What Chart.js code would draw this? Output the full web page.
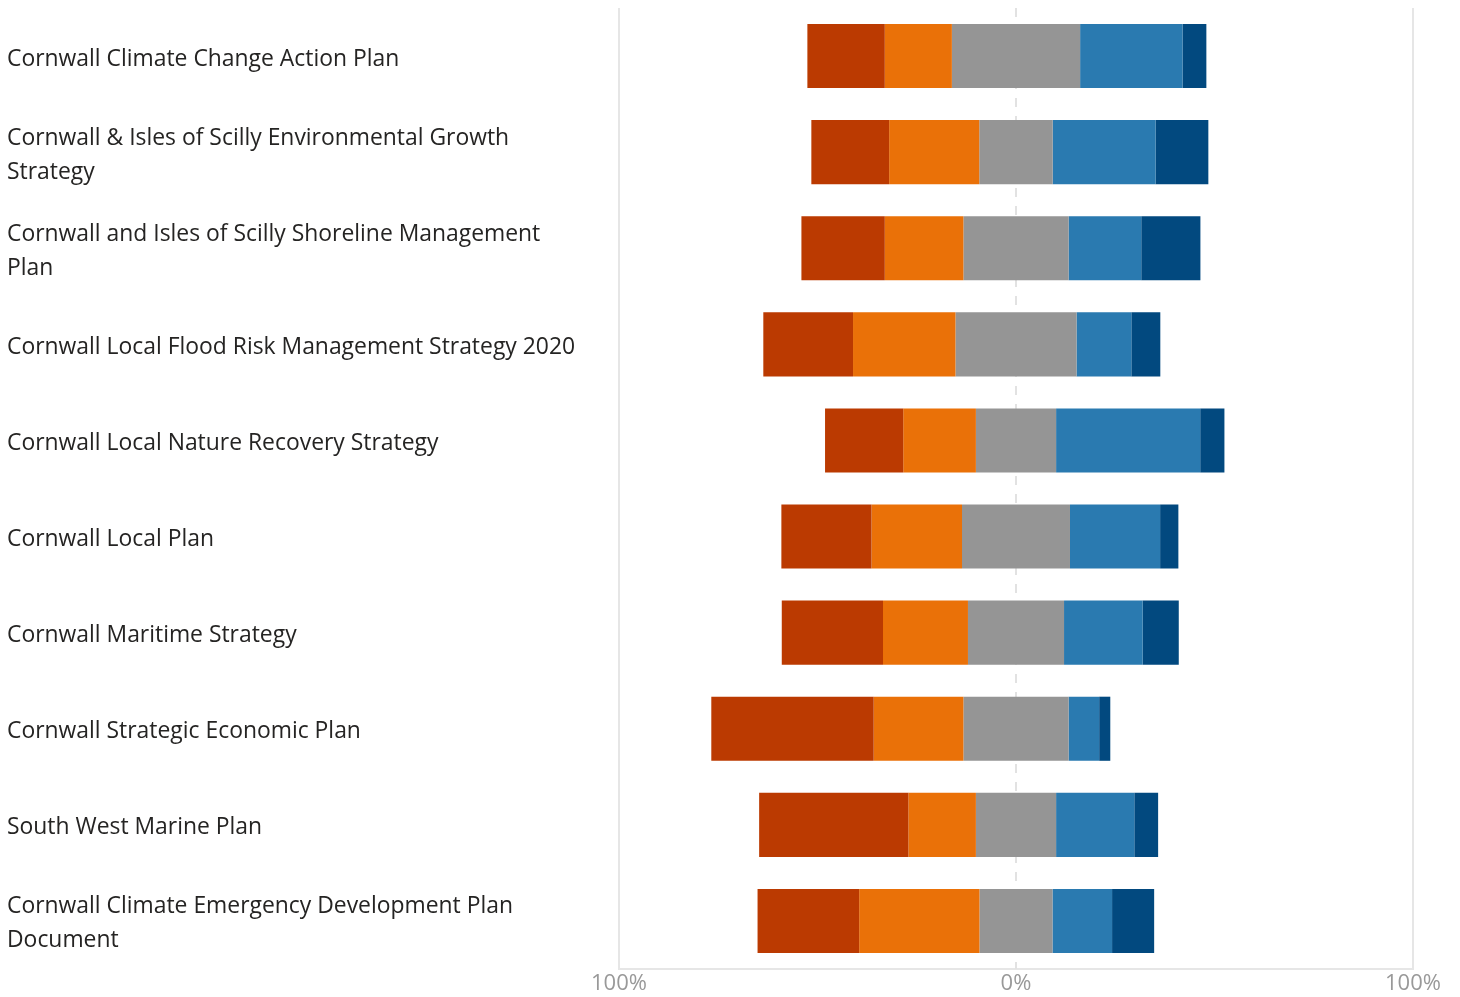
<!DOCTYPE html>
<html>
<head>
<meta charset="utf-8">
<script src="https://cdn.jsdelivr.net/npm/chart.js@4"></script>
<style>
  html, body { margin: 0; padding: 0; background: #fff; }
  #wrap { width: 1460px; height: 997px; position: relative; }
</style>
</head>
<body>
<div id="wrap"><canvas id="likert"></canvas></div>
<script>
// Diverging stacked bar - plan agreement survey

var categories = [
  'Cornwall Climate Change Action Plan',
  ['Cornwall & Isles of Scilly Environmental Growth', 'Strategy'],
  ['Cornwall and Isles of Scilly Shoreline Management', 'Plan'],
  'Cornwall Local Flood Risk Management Strategy 2020',
  'Cornwall Local Nature Recovery Strategy',
  'Cornwall Local Plan',
  'Cornwall Maritime Strategy',
  'Cornwall Strategic Economic Plan',
  'South West Marine Plan',
  ['Cornwall Climate Emergency Development Plan', 'Document']
];

// percent of responses per plan
var stronglyDisagree = [19.5, 19.6, 21.0, 22.6, 19.7, 22.7, 25.5, 40.9, 37.6, 25.6];
var disagree         = [16.9, 22.7, 19.8, 25.8, 18.3, 22.8, 21.4, 22.6, 17.0, 30.3];
var neutral          = [32.3, 18.5, 26.5, 30.5, 20.2, 27.2, 24.2, 26.5, 20.2, 18.4];
var agree            = [25.8, 25.9, 18.3, 13.8, 36.3, 22.7, 19.8, 7.7, 19.7, 15.0];
var stronglyAgree    = [6.0, 13.3, 14.9, 7.3, 6.1, 4.6, 9.1, 2.8, 6.0, 10.6];

var axisTicks = [-100, 0, 100];

var COLORS = {
  sd: '#BB3A01',
  d: '#EA7108',
  n: '#959595',
  a: '#2A7AB0',
  sa: '#02497F'
};

// floating [start, end] ranges, neutral centred on 0
var ranges = { sd: [], d: [], n: [], a: [], sa: [] };
neutral.forEach(function (n, i) {
  var h = n / 2;
  ranges.n.push([-h, h]);
  ranges.d.push([-h - disagree[i], -h]);
  ranges.sd.push([-h - disagree[i] - stronglyDisagree[i], -h - disagree[i]]);
  ranges.a.push([h, h + agree[i]]);
  ranges.sa.push([h + agree[i], h + agree[i] + stronglyAgree[i]]);
});

function seg(label, data, color) {
  return {
    label: label,
    data: data,
    backgroundColor: color,
    borderWidth: 0,
    barPercentage: 0.667,
    categoryPercentage: 1
  };
}

// dashed zero line, behind the bars
var zeroLinePlugin = {
  id: 'zeroLine',
  beforeDatasetsDraw: function (chart) {
    var x = chart.scales.x.getPixelForValue(0);
    var area = chart.chartArea;
    var ctx = chart.ctx;
    ctx.save();
    ctx.strokeStyle = '#e2e2e2';
    ctx.lineWidth = 2;
    ctx.setLineDash([9, 9]);
    ctx.beginPath();
    ctx.moveTo(x, area.top);
    ctx.lineTo(x, area.bottom);
    ctx.stroke();
    ctx.restore();
  }
};

new Chart(document.getElementById('likert').getContext('2d'), {
  type: 'bar',
  data: {
    labels: categories,
    datasets: [
      seg('Strongly disagree', ranges.sd, COLORS.sd),
      seg('Disagree', ranges.d, COLORS.d),
      seg('Neutral', ranges.n, COLORS.n),
      seg('Agree', ranges.a, COLORS.a),
      seg('Strongly agree', ranges.sa, COLORS.sa)
    ]
  },
  options: {
    indexAxis: 'y',
    responsive: true, maintainAspectRatio: false,
    animation: false,
    layout: { padding: { left: 7, right: 47, top: 8, bottom: 0 } },
    plugins: {
      legend: { display: false },
      tooltip: { enabled: false }
    },
    scales: {
      x: {
        min: -100, max: 100,
        afterBuildTicks: function (scale) {
          scale.ticks = axisTicks.map(function (v) { return { value: v }; });
        },
        afterFit: function (scale) {
          scale.height = 28;
          scale.paddingLeft = 0; scale.paddingRight = 0;
        },
        grid: {
          drawTicks: false,
          color: function (c) { return c.tick && c.tick.value === 0 ? 'rgba(0,0,0,0)' : '#e6e6e6'; },
          lineWidth: 2
        },
        border: { display: true, color: '#e6e6e6', width: 2 },
        ticks: {
          padding: 2,
          color: '#999999',
          font: { family: "'Open Sans', sans-serif", size: 22 },
          callback: function (v) { return Math.abs(v) + '%'; }
        }
      },
      y: {
        stacked: true,
        afterFit: function (scale) {
          scale.width = 612;
          scale.paddingTop = 0; scale.paddingBottom = 0;
        },
        grid: { display: false, drawTicks: false },
        border: { display: false },
        ticks: {
          autoSkip: false,
          crossAlign: 'far',
          padding: 0,
          labelOffset: 3,
          color: '#252423',
          font: { family: "'Open Sans', sans-serif", size: 22.9, lineHeight: 1.485 }
        }
      }
    }
  },
  plugins: [zeroLinePlugin]
});
</script>
</body>
</html>
